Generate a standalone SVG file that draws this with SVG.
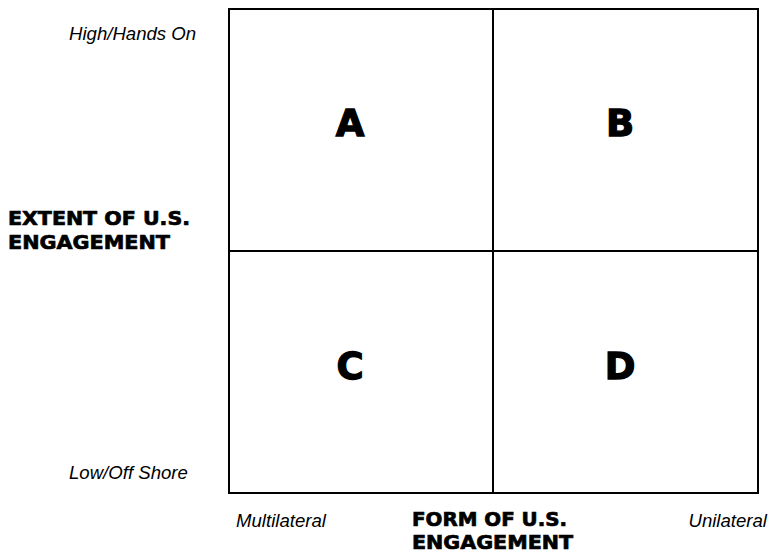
<svg xmlns="http://www.w3.org/2000/svg" width="768" height="554" viewBox="0 0 768 554">
<style>
.cell{fill:#fff;stroke:#000;stroke-width:2}
.big{font-family:"DejaVu Sans",sans-serif;font-weight:bold;font-size:37px;fill:#000;text-anchor:middle;stroke:#000;stroke-width:1.3}
.axis{font-family:"DejaVu Sans",sans-serif;font-weight:bold;font-size:19px;fill:#000;stroke:#000;stroke-width:0.7}
.lab{font-family:"Liberation Sans",Arial,sans-serif;font-style:italic;font-size:18.6px;fill:#000}
</style>
<rect width="768" height="554" fill="#fff"/>
<g id="quadrant-A"><rect class="cell" x="229" y="9" width="264" height="242"/><text class="big" x="350" y="136">A</text></g>
<g id="quadrant-B"><rect class="cell" x="493" y="9" width="265" height="242"/><text class="big" x="620" y="136">B</text></g>
<g id="quadrant-C"><rect class="cell" x="229" y="251" width="264" height="242"/><text class="big" x="350" y="379">C</text></g>
<g id="quadrant-D"><rect class="cell" x="493" y="251" width="265" height="242"/><text class="big" x="620" y="379">D</text></g>
<g id="connectors"></g>
<g id="y-axis">
<text class="axis" x="8" y="225" textLength="182" lengthAdjust="spacingAndGlyphs">EXTENT OF U.S.</text>
<text class="axis" x="8" y="249" textLength="162" lengthAdjust="spacingAndGlyphs">ENGAGEMENT</text>
<text class="lab" x="69" y="40">High/Hands On</text>
<text class="lab" x="69" y="479">Low/Off Shore</text>
</g>
<g id="x-axis">
<text class="axis" x="412" y="526" textLength="155" lengthAdjust="spacingAndGlyphs">FORM OF U.S.</text>
<text class="axis" x="412" y="549" textLength="161" lengthAdjust="spacingAndGlyphs">ENGAGEMENT</text>
<text class="lab" x="236" y="527">Multilateral</text>
<text class="lab" x="767" y="527" text-anchor="end">Unilateral</text>
</g>
</svg>
